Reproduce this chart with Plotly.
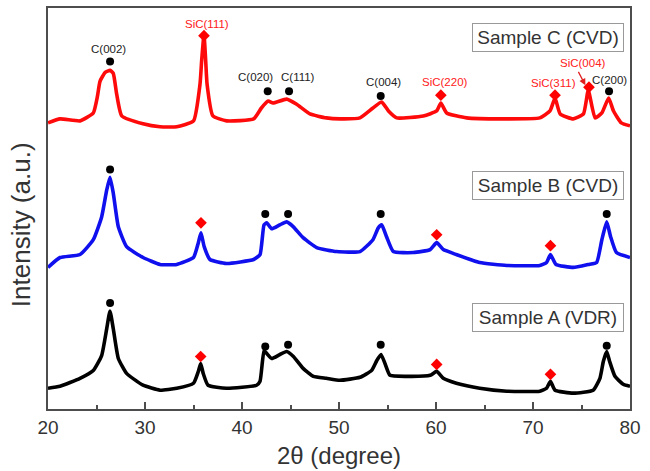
import plotly.graph_objects as go

# ---------------- data (2θ in degrees, intensity in arbitrary units) ----------------
theta_A = [20.0, 21.24, 23.3, 24.67, 25.53, 26.05, 26.39, 26.73, 27.25, 28.1, 29.8, 31.55, 33.27,
           35.0, 35.5, 35.74, 36.0, 36.5, 38.4, 41.5, 41.86, 42.27, 42.55, 43.06, 43.9, 44.6, 45.3,
           46.3, 47.35, 48.7, 50.1, 52.16, 53.37, 53.9, 54.33, 54.74, 55.26, 56.98, 59.4, 60.07,
           60.75, 62.1, 64.5, 67.3, 70.7, 71.4, 71.8, 72.27, 74.15, 76.2, 76.9, 77.25, 77.6, 77.9,
           78.45, 79.3, 80.0]
int_A = [21, 23, 31, 39, 54, 81, 99, 81, 51, 36, 24, 19, 21,
         26, 38, 46, 36, 24, 21, 24, 28, 59, 56, 51, 55, 58, 53,
         41, 33, 31, 29, 32, 39, 49, 55, 46, 34, 33, 34, 38,
         31, 26, 21, 18, 18, 21, 28, 19, 16, 19, 31, 48, 58, 48,
         33, 25, 23]

theta_B = [20.0, 21.24, 23.3, 24.67, 25.53, 26.05, 26.39, 26.73, 27.25, 28.1, 29.8, 31.55, 33.27,
           35.0, 35.5, 35.77, 36.1, 36.7, 38.4, 41.2, 41.86, 42.27, 42.55, 43.06, 43.9, 44.6, 45.3,
           46.3, 47.7, 49.76, 52.16, 53.5, 54.05, 54.4, 54.9, 55.6, 57.66, 59.4, 60.07, 60.75,
           62.1, 64.5, 67.3, 70.7, 71.4, 71.8, 72.37, 74.15, 75.7, 76.56, 77.1, 77.6, 78.0, 78.6, 80.0]
int_B = [143, 153, 156, 171, 194, 221, 234, 218, 184, 164, 153, 146, 146,
         153, 168, 178, 164, 151, 147, 151, 156, 186, 188, 182, 186, 189, 184,
         173, 163, 159, 159, 171, 183, 186, 174, 159, 158, 161, 168, 161,
         156, 148, 145, 145, 148, 156, 146, 143, 146, 148, 171, 189, 174, 158, 153]

theta_C = [20.0, 21.24, 23.3, 24.67, 25.1, 25.36, 25.9, 26.4, 26.73, 27.08, 27.6, 29.8, 31.55, 33.27,
           35.0, 35.67, 35.85, 36.08, 36.25, 36.4, 37.0, 38.4, 41.2, 42.0, 42.7, 43.2, 44.6, 45.6,
           47.0, 48.7, 50.1, 52.16, 53.5, 54.4, 55.1, 55.95, 58.7, 60.07, 60.5, 61.1, 63.16,
           67.3, 70.7, 71.75, 72.27, 72.8, 74.15, 75.2, 75.7, 76.4, 77.1, 77.8, 78.3, 79.1, 80.0]
int_C = [289, 293, 291, 299, 316, 331, 340, 342, 339, 318, 296, 288, 285, 285,
         291, 328, 353, 378, 353, 328, 296, 291, 293, 304, 311, 309, 313, 308,
         298, 294, 293, 294, 304, 310, 301, 294, 296, 301, 309, 299, 294,
         293, 294, 301, 314, 298, 293, 298, 322, 294, 299, 314, 301, 289, 286]

# peak markers: graphite (circles) and SiC (diamonds)
C_peak_A = [26.4, 42.4, 44.75, 54.3, 77.6]
C_mark_A = [107, 63, 65, 65, 64]
S_peak_A = [35.74, 60.07, 71.8]
S_mark_A = [53, 45, 35]

C_peak_B = [26.4, 42.4, 44.75, 54.3, 77.6]
C_mark_B = [242, 197, 197, 197, 197]
S_peak_B = [35.77, 60.07, 71.8]
S_mark_B = [188, 176, 165]

C_peak_C = [26.4, 42.65, 44.85, 54.3, 77.84]
C_mark_C = [351, 321, 321, 316, 321]
S_peak_C = [36.08, 60.5, 72.27, 75.77]
S_mark_C = [377, 317, 317, 325]

# peak labels (Sample C)
graphite_labels = ["C(002)", "C(020)", "C(111)", "C(004)", "C(200)"]
graphite_lab_x = [26.2, 41.43, 45.74, 54.6, 77.86]
graphite_lab_y = [364, 335, 335, 330, 332]
sic_labels = ["SiC(111)", "SiC(220)", "SiC(311)", "SiC(004)"]
sic_lab_x = [36.36, 60.97, 72.1, 75.13]
sic_lab_y = [389, 330, 329, 349]

sample_names = ["Sample A (VDR)", "Sample B (CVD)", "Sample C (CVD)"]
sample_box_y = [92, 225.5, 375.5]

# ---------------- figure ----------------
fig = go.Figure()

for th, it, col in [(theta_A, int_A, "#000000"), (theta_B, int_B, "#1010ee"), (theta_C, int_C, "#ff0a0a")]:
    fig.add_trace(go.Scatter(x=th, y=it, mode="lines",
                             line=dict(color=col, width=3.6, shape="spline", smoothing=0.45),
                             showlegend=False, hoverinfo="skip"))

for cx, cy in [(C_peak_A, C_mark_A), (C_peak_B, C_mark_B), (C_peak_C, C_mark_C)]:
    fig.add_trace(go.Scatter(x=cx, y=cy, mode="markers",
                             marker=dict(symbol="circle", size=8, color="#000000"),
                             showlegend=False))
for sx, sy in [(S_peak_A, S_mark_A), (S_peak_B, S_mark_B), (S_peak_C, S_mark_C)]:
    fig.add_trace(go.Scatter(x=sx, y=sy, mode="markers",
                             marker=dict(symbol="diamond", size=9, color="#ff0000"),
                             showlegend=False))

annotations = []
for t, x, y in zip(graphite_labels, graphite_lab_x, graphite_lab_y):
    annotations.append(dict(x=x, y=y, text=t, showarrow=False,
                            font=dict(size=11.5, color="#222222", family="Liberation Sans, Arial")))
for t, x, y in zip(sic_labels, sic_lab_x, sic_lab_y):
    annotations.append(dict(x=x, y=y, text=t, showarrow=False,
                            font=dict(size=11.5, color="#ff2020", family="Liberation Sans, Arial")))

# arrow from SiC(004) label to its peak
annotations.append(dict(x=75.4, y=327, ax=74.6, ay=342, axref="x", ayref="y", xref="x", yref="y",
                        text="", showarrow=True, arrowhead=2, arrowsize=1, arrowwidth=1.3,
                        arrowcolor="#e02020"))

for name, yb in zip(sample_names, sample_box_y):
    annotations.append(dict(x=71.5, y=yb, text=name, showarrow=False,
                            font=dict(size=19, color="#333333", family="Liberation Sans, Arial"),
                            bordercolor="#999999", borderwidth=1, borderpad=1,
                            width=148, height=25, bgcolor="rgba(255,255,255,0)"))

# y-axis title (placed as rotated text to match the reference position)
annotations.append(dict(xref="paper", yref="paper", x=-0.047, y=0.46, text="Intensity (a.u.)",
                        textangle=-90, showarrow=False, xanchor="center", yanchor="middle",
                        font=dict(size=26, color="#333333", family="Liberation Sans, Arial")))

fig.update_layout(
    width=650, height=471,
    margin=dict(l=48, r=20, t=6, b=60),
    paper_bgcolor="white", plot_bgcolor="white",
    font=dict(family="Liberation Sans, Arial", color="#333333"),
    annotations=annotations,
    showlegend=False,
)

fig.update_xaxes(
    range=[20, 80], tickmode="linear", tick0=20, dtick=10,
    ticks="inside", ticklen=7, tickwidth=1.5, tickcolor="#4d4d4d",
    minor=dict(ticks="inside", ticklen=4, tickwidth=1.5, tickcolor="#4d4d4d", dtick=5, tick0=20),
    showline=True, linecolor="#4d4d4d", linewidth=2, mirror=True,
    showgrid=False, zeroline=False,
    tickfont=dict(size=19, color="#333333"),
    title=dict(text="2θ (degree)", font=dict(size=24, color="#333333"), standoff=10),
)
fig.update_yaxes(
    range=[0, 405], showticklabels=False, ticks="",
    showline=True, linecolor="#4d4d4d", linewidth=2, mirror=True,
    showgrid=False, zeroline=False,
)

fig.write_html("out.html")
